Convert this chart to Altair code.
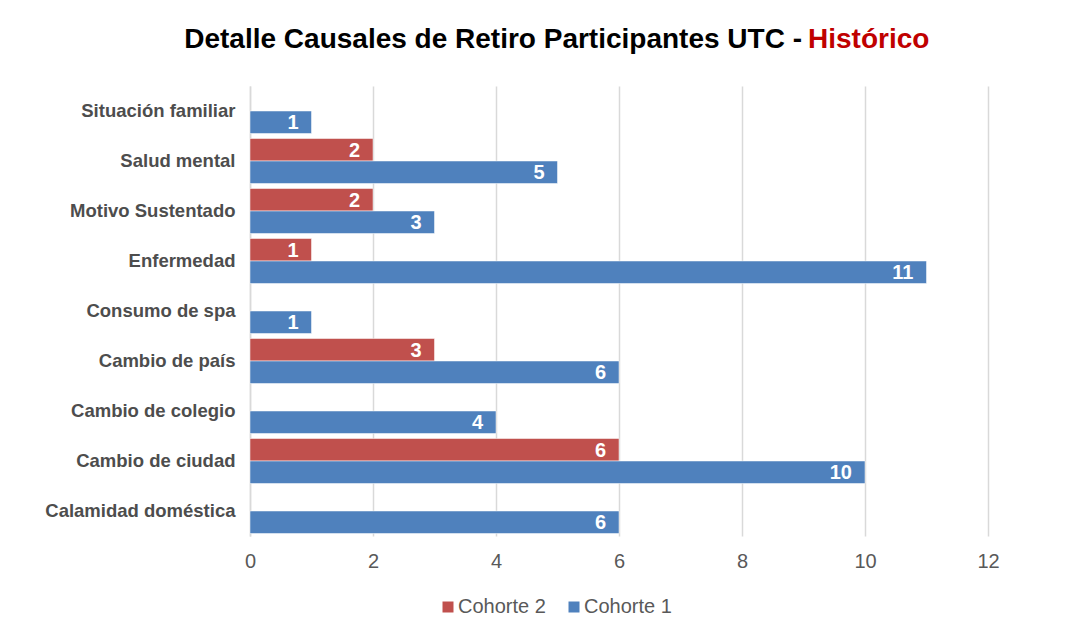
import altair as alt
import pandas as pd

categories = ["Situación familiar", "Salud mental", "Motivo Sustentado", "Enfermedad",
              "Consumo de spa", "Cambio de país", "Cambio de colegio", "Cambio de ciudad",
              "Calamidad doméstica"]
cohorte1 = [1, 5, 3, 11, 1, 6, 4, 10, 6]
cohorte2 = [None, 2, 2, 1, None, 3, None, 6, None]
series = ["Cohorte 2", "Cohorte 1"]
colors = ["#C0504D", "#4F81BD"]
x_ticks = [0, 2, 4, 6, 8, 10, 12]
title_parts = ["Detalle Causales de Retiro Participantes UTC - ", "Histórico"]
title_colors = ["#000000", "#C00000"]

rows = []
for cat, v1, v2 in zip(categories, cohorte1, cohorte2):
    if v2 is not None:
        rows.append({"Causal": cat, "Serie": "Cohorte 2", "Valor": v2})
    rows.append({"Causal": cat, "Serie": "Cohorte 1", "Valor": v1})
df = pd.DataFrame(rows)

FONT = "Liberation Sans"

y_enc = alt.Y("Causal:N", sort=categories,
              scale=alt.Scale(paddingInner=0.1, paddingOuter=0.05),
              axis=alt.Axis(title=None, ticks=False, domainColor="#d9d9d9", domainWidth=1.5,
                            labelFont=FONT, labelFontSize=18.5, labelFontWeight="bold",
                            labelColor="#4d4d4d", labelPadding=15, labelLimit=300))
x_enc = alt.X("Valor:Q", scale=alt.Scale(domain=[0, 12], nice=False),
              axis=alt.Axis(title=None, values=x_ticks, ticks=False, domain=False,
                            format="d", labelFlush=False,
                            labelFont=FONT, labelFontSize=20, labelColor="#595959",
                            labelPadding=15, gridColor="#d9d9d9", gridWidth=1.5))
yoff = alt.YOffset("Serie:N", sort=series)

bars = alt.Chart(df).mark_bar(stroke="white", strokeWidth=0.5).encode(
    y=y_enc, x=x_enc, yOffset=yoff,
    color=alt.Color("Serie:N", scale=alt.Scale(domain=series, range=colors),
                    legend=alt.Legend(orient="none", legendX=188, legendY=511,
                                      direction="horizontal", title=None,
                                      symbolType="square", symbolSize=121,
                                      symbolStrokeWidth=0,
                                      labelFont=FONT, labelFontSize=20,
                                      labelColor="#595959", columnPadding=18,
                                      labelOffset=0)),
)

labels = alt.Chart(df).mark_text(align="right", baseline="middle", dx=-13, dy=1,
                                 color="white", fontWeight="bold", fontSize=20,
                                 font=FONT).encode(
    y=alt.Y("Causal:N", sort=categories), x="Valor:Q", yOffset=yoff,
    text="Valor:Q",
)

tdf = pd.DataFrame({"part": title_parts, "color": title_colors})
t_black = alt.Chart(tdf.iloc[[0]]).mark_text(align="right", baseline="middle",
                                             fontSize=28, fontWeight="bold", font=FONT,
                                             color=title_colors[0]).encode(
    text="part:N", x=alt.value(552), y=alt.value(-46))
t_red = alt.Chart(tdf.iloc[[1]]).mark_text(align="left", baseline="middle",
                                           fontSize=28, fontWeight="bold", font=FONT,
                                           color=title_colors[1]).encode(
    text="part:N", x=alt.value(558), y=alt.value(-46))

chart = alt.layer(bars, labels, t_black, t_red).properties(
    width=738, height=450,
    autosize=alt.AutoSizeParams(type="none"),
    padding={"left": 242, "top": 78, "right": 75, "bottom": 85},
    background="white",
).configure_view(stroke=None)

chart.save("out.html", embed_options={"renderer": "svg", "actions": False})
